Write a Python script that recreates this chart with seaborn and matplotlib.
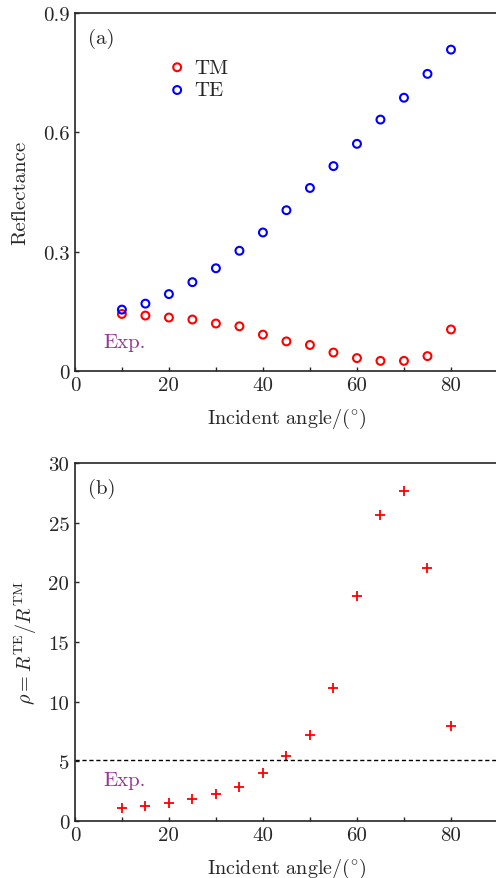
import matplotlib
matplotlib.use("Agg")
import matplotlib.pyplot as plt
import matplotlib.ticker as ticker
import seaborn as sns
import pandas as pd

angle = [10, 15, 20, 25, 30, 35, 40, 45, 50, 55, 60, 65, 70, 75, 80]
r_te = [0.154, 0.169, 0.193, 0.223, 0.258, 0.302, 0.348, 0.404, 0.460,
        0.515, 0.571, 0.632, 0.687, 0.747, 0.808]
r_tm = [0.143, 0.139, 0.134, 0.129, 0.119, 0.112, 0.091, 0.074, 0.065,
        0.046, 0.032, 0.025, 0.025, 0.037, 0.104]
rho = [1.12, 1.26, 1.51, 1.82, 2.29, 2.80, 4.00, 5.45, 7.18,
       11.18, 18.87, 25.61, 27.62, 21.19, 7.94]
rho_ref = 5.1

sns.set_style("ticks")
plt.rcParams["font.family"] = ["cmr10", "DejaVu Serif"]
plt.rcParams["mathtext.fontset"] = "cm"
plt.rcParams["axes.formatter.use_mathtext"] = True

fig = plt.figure(figsize=(4.96, 8.79), dpi=100)
ax1 = fig.add_axes([0.151, 0.577, 0.853, 0.407])
ax2 = fig.add_axes([0.151, 0.065, 0.853, 0.407])

df = pd.DataFrame({"angle": angle, "TM": r_tm, "TE": r_te})

sns.scatterplot(data=df, x="angle", y="TM", ax=ax1, color="red", s=32, label="TM")
sns.scatterplot(data=df, x="angle", y="TE", ax=ax1, color="blue", s=32, label="TE")
for coll, c in zip(ax1.collections, ["red", "blue"]):
    coll.set_facecolor("none")
    coll.set_edgecolor(c)
    coll.set_linewidth(1.5)
ax1.legend(loc="upper left", bbox_to_anchor=(0.222, 0.874), frameon=False,
           fontsize=15, handletextpad=0.4, labelspacing=0.2, borderaxespad=0,
           handlelength=0.8, borderpad=0)

df2 = pd.DataFrame({"angle": angle, "rho": rho})
sns.scatterplot(data=df2, x="angle", y="rho", ax=ax2, color="red", marker="+",
                s=60, linewidth=1.3)
ax2.axhline(rho_ref, ls=(0, (3, 2)), color="black", lw=1)

def fmt(v, pos):
    if abs(v) < 1e-9:
        return "0"
    return ("%g" % v)

for ax, lab in [(ax1, "(a)"), (ax2, "(b)")]:
    ax.set_xlim(0, 90)
    ax.xaxis.set_major_locator(ticker.MultipleLocator(20))
    ax.xaxis.set_minor_locator(ticker.MultipleLocator(10))
    ax.xaxis.set_major_formatter(ticker.FuncFormatter(fmt))
    ax.yaxis.set_major_formatter(ticker.FuncFormatter(fmt))
    ax.tick_params(which="both", direction="in", length=3, width=1, labelsize=15, pad=4)
    for side in ["left", "bottom", "top"]:
        ax.spines[side].set_linewidth(1.2)
    ax.spines["right"].set_visible(False)
    ax.set_xlabel("Incident angle/(" + r"$^{\circ}$" + ")", fontsize=14.5, labelpad=8)
    ax.text(0.03, 0.93, lab, transform=ax.transAxes, fontsize=15, va="center")

ax1.set_ylim(0, 0.9)
ax1.yaxis.set_major_locator(ticker.MultipleLocator(0.3))
ax1.set_ylabel("Reflectance", fontsize=15, labelpad=10)
ax1.text(6, 0.072, "Exp.", color="#993399", fontsize=15, va="center")

ax2.set_ylim(0, 30)
ax2.yaxis.set_major_locator(ticker.MultipleLocator(5))
ax2.set_ylabel(r"$\rho = R^{\rm TE}/R^{\rm TM}$", fontsize=14.5, labelpad=7)
ax2.text(6, 3.44, "Exp.", color="#993399", fontsize=15, va="center")

fig.savefig("out.png", dpi=100)
